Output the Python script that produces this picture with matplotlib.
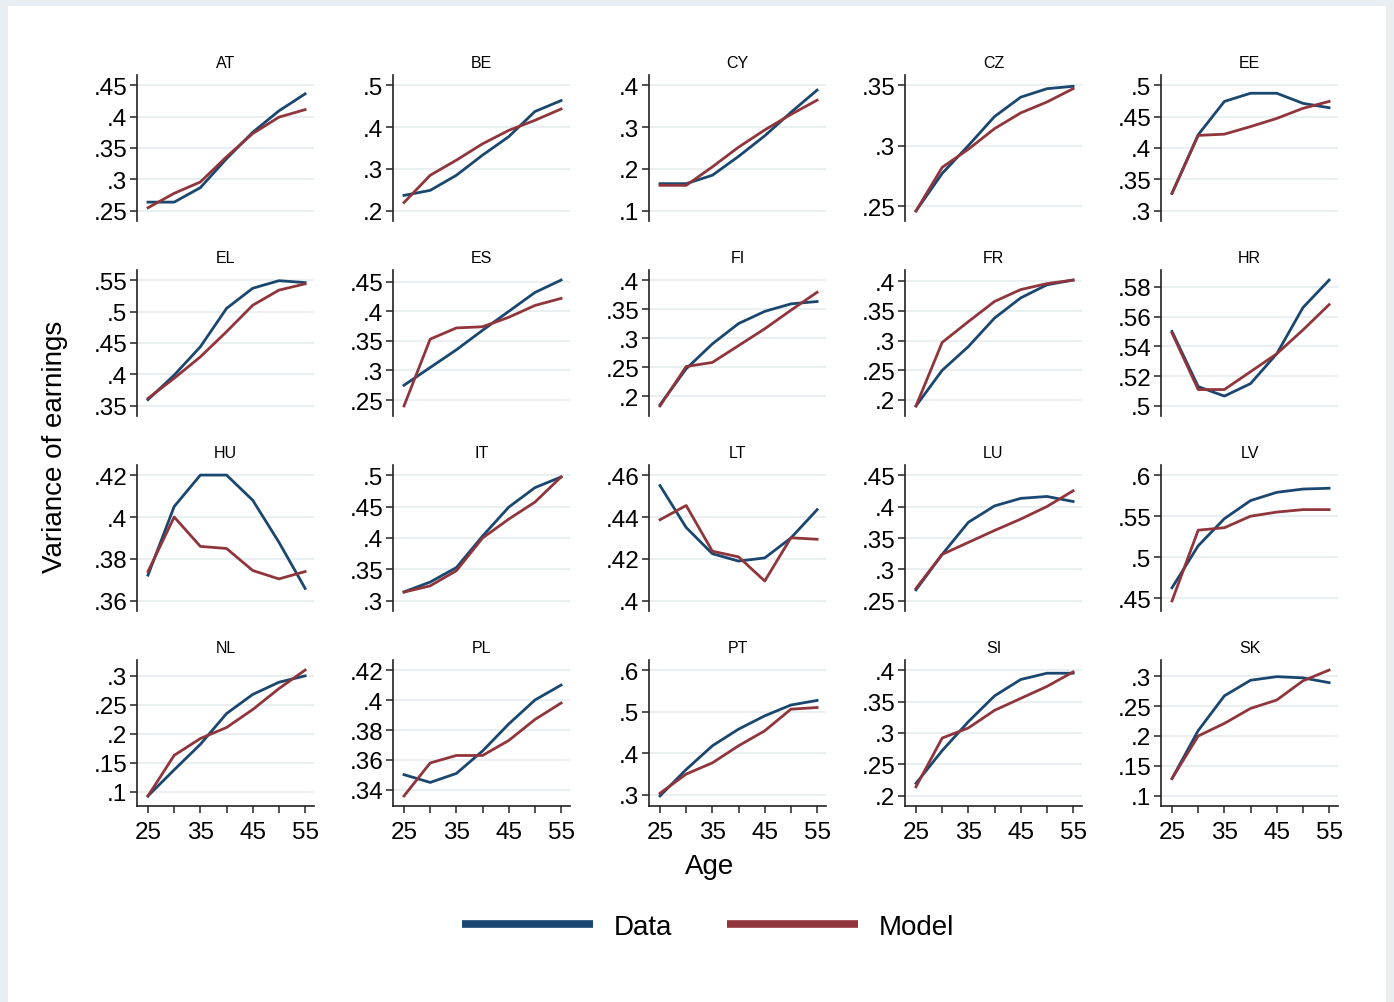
import matplotlib.pyplot as plt
from matplotlib.patches import Rectangle

plt.rcParams['font.family'] = ['Liberation Sans', 'DejaVu Sans']

ages = [25, 30, 35, 40, 45, 50, 55]
age_ticks = [25, 30, 35, 40, 45, 50, 55]
age_labels = ['25', '', '35', '', '45', '', '55']

# variance of earnings by age
at_data = [.264, .264, .287, .333, .375, .409, .436]
at_model = [.255, .278, .296, .336, .373, .399, .411]
at_ticks = [.25, .3, .35, .4, .45]

be_data = [.237, .249, .285, .333, .377, .437, .463]
be_model = [.220, .285, .321, .360, .392, .416, .443]
be_ticks = [.2, .3, .4, .5]

cy_data = [.165, .165, .185, .230, .279, .335, .388]
cy_model = [.161, .161, .205, .252, .293, .330, .364]
cy_ticks = [.1, .2, .3, .4]

cz_data = [.246, .277, .300, .324, .340, .347, .349]
cz_model = [.246, .282, .297, .314, .327, .336, .347]
cz_ticks = [.25, .3, .35]

ee_data = [.328, .421, .474, .487, .487, .471, .464]
ee_model = [.328, .420, .422, .434, .447, .463, .474]
ee_ticks = [.3, .35, .4, .45, .5]

el_data = [.360, .399, .444, .505, .537, .549, .546]
el_model = [.362, .394, .428, .468, .510, .534, .544]
el_ticks = [.35, .4, .45, .5, .55]

es_data = [.275, .305, .335, .368, .400, .432, .453]
es_model = [.240, .353, .372, .374, .390, .410, .422]
es_ticks = [.25, .3, .35, .4, .45]

fi_data = [.185, .247, .290, .325, .346, .359, .363]
fi_model = [.183, .251, .258, .287, .316, .348, .379]
fi_ticks = [.2, .25, .3, .35, .4]

fr_data = [.190, .250, .290, .338, .372, .394, .402]
fr_model = [.190, .297, .332, .366, .386, .396, .402]
fr_ticks = [.2, .25, .3, .35, .4]

hr_data = [.550, .513, .5066, .515, .535, .566, .5845]
hr_model = [.549, .511, .511, .523, .535, .551, .568]
hr_ticks = [.5, .52, .54, .56, .58]

hu_data = [.3723, .405, .420, .420, .408, .388, .366]
hu_model = [.374, .400, .386, .385, .3745, .3705, .374]
hu_ticks = [.36, .38, .4, .42]

it_data = [.3144, .330, .353, .403, .449, .480, .497]
it_model = [.314, .324, .348, .400, .430, .457, .497]
it_ticks = [.3, .35, .4, .45, .5]

lt_data = [.455, .435, .4225, .419, .4205, .430, .4435]
lt_model = [.4387, .4455, .4237, .421, .4095, .4301, .4294]
lt_ticks = [.4, .42, .44, .46]

lu_data = [.2676, .324, .375, .401, .413, .416, .408]
lu_model = [.270, .324, .343, .362, .380, .400, .425]
lu_ticks = [.25, .3, .35, .4, .45]

lv_data = [.463, .514, .547, .569, .579, .583, .584]
lv_model = [.447, .533, .536, .550, .555, .558, .558]
lv_ticks = [.45, .5, .55, .6]

nl_data = [.093, .138, .182, .235, .268, .289, .300]
nl_model = [.093, .163, .192, .211, .242, .278, .310]
nl_ticks = [.1, .15, .2, .25, .3]

pl_data = [.3502, .345, .351, .366, .384, .400, .410]
pl_model = [.336, .358, .363, .363, .373, .387, .398]
pl_ticks = [.34, .36, .38, .4, .42]

pt_data = [.2975, .361, .418, .458, .490, .516, .527]
pt_model = [.304, .350, .377, .418, .454, .506, .510]
pt_ticks = [.3, .4, .5, .6]

si_data = [.220, .272, .318, .359, .385, .395, .395]
si_model = [.2145, .292, .308, .336, .355, .374, .397]
si_ticks = [.2, .25, .3, .35, .4]

sk_data = [.129, .209, .267, .293, .299, .297, .289]
sk_model = [.129, .200, .221, .246, .260, .292, .310]
sk_ticks = [.1, .15, .2, .25, .3]

panels = [
    ('AT', at_data, at_model, at_ticks), ('BE', be_data, be_model, be_ticks),
    ('CY', cy_data, cy_model, cy_ticks), ('CZ', cz_data, cz_model, cz_ticks),
    ('EE', ee_data, ee_model, ee_ticks), ('EL', el_data, el_model, el_ticks),
    ('ES', es_data, es_model, es_ticks), ('FI', fi_data, fi_model, fi_ticks),
    ('FR', fr_data, fr_model, fr_ticks), ('HR', hr_data, hr_model, hr_ticks),
    ('HU', hu_data, hu_model, hu_ticks), ('IT', it_data, it_model, it_ticks),
    ('LT', lt_data, lt_model, lt_ticks), ('LU', lu_data, lu_model, lu_ticks),
    ('LV', lv_data, lv_model, lv_ticks), ('NL', nl_data, nl_model, nl_ticks),
    ('PL', pl_data, pl_model, pl_ticks), ('PT', pt_data, pt_model, pt_ticks),
    ('SI', si_data, si_model, si_ticks), ('SK', sk_data, sk_model, sk_ticks),
]

BLUE = '#1a476f'
RED = '#90353b'
GRID = '#e6eef0'
W, H = 1394, 1003

fig = plt.figure(figsize=(W / 100, H / 100), dpi=100, facecolor='#e8eef1')
fig.patches.append(Rectangle((8 / W, 0), (1386 - 8) / W, (H - 7) / H,
                             transform=fig.transFigure, facecolor='white',
                             edgecolor='none', zorder=-10))


def fmt(v):
    s = f'{v:g}'
    return s[1:] if s.startswith('0') else s


for i, (name, d, m, ticks) in enumerate(panels):
    r, c = divmod(i, 5)
    left = 137 + 256 * c
    top = 76 + 195 * r
    ax = fig.add_axes([left / W, 1 - (top + 146) / H, 177 / W, 146 / H])
    ax.set_facecolor('white')
    ax.plot(ages, d, color=BLUE, lw=2.0, solid_joinstyle='round', zorder=3)
    ax.plot(ages, m, color=RED, lw=2.0, solid_joinstyle='round', zorder=3)

    lo = min(min(d), min(m), ticks[0])
    hi = max(max(d), max(m), ticks[-1])
    pad = 0.08 * (hi - lo)
    ax.set_ylim(lo - pad, hi + pad)
    ax.set_xlim(22.9, 56.7)

    ax.set_yticks(ticks)
    ax.set_yticklabels([fmt(t) for t in ticks])
    for t in ticks:
        ax.axhline(t, color=GRID, lw=1.2, zorder=1)

    for s in ['top', 'right']:
        ax.spines[s].set_visible(False)
    ax.spines['left'].set_color('#222222')
    ax.spines['left'].set_linewidth(1.2)
    ax.tick_params(axis='y', length=5, width=1.1, color='#222222',
                   labelsize=17.5, pad=2)

    if r == 3:
        ax.set_xticks(age_ticks)
        ax.set_xticklabels(age_labels)
        ax.spines['bottom'].set_color('#222222')
        ax.spines['bottom'].set_linewidth(1.2)
        ax.tick_params(axis='x', length=5, width=1.1, color='#222222',
                       labelsize=17.5, pad=6)
    else:
        ax.spines['bottom'].set_visible(False)
        ax.set_xticks([])

    ax.set_title(name, fontsize=11.5, pad=6)

fig.text(55 / W, 1 - 447 / H, 'Variance of earnings', rotation=90,
         fontsize=20, ha='center', va='center')
fig.text(710 / W, 1 - 867 / H, 'Age', fontsize=20, ha='center', va='center')

h1, = plt.plot([], [], color=BLUE, lw=5.5, solid_capstyle='butt')
h2, = plt.plot([], [], color=RED, lw=5.5, solid_capstyle='butt')
fig.legend([h1, h2], ['Data', 'Model'], loc='center',
           bbox_to_anchor=(708 / W, 1 - 928 / H), ncol=2, frameon=False,
           fontsize=20, handlelength=4.7, handletextpad=0.75,
           columnspacing=2.0)

fig.savefig('out.png', dpi=100, facecolor=fig.get_facecolor())
